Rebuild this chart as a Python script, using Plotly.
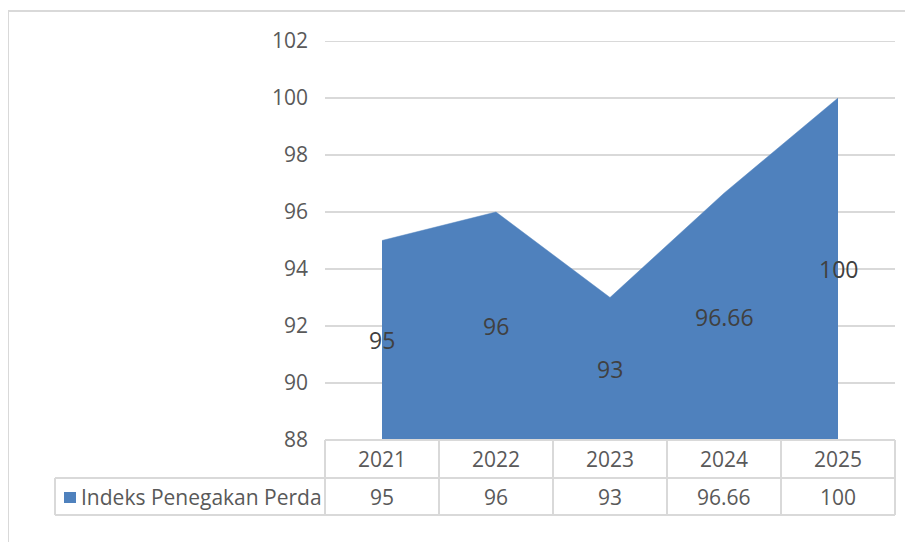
import plotly.graph_objects as go

years = ["2021", "2022", "2023", "2024", "2025"]
values = [95, 96, 93, 96.66, 100]
value_labels = ["95", "96", "93", "96.66", "100"]
series_name = "Indeks Penegakan Perda"
y_min, y_max, y_step = 88, 102, 2

W, H = 913, 542
OFF = 8  # default page body margin
# target plot area in page pixels: x 325..895, y 41..440
ML = 325 - OFF
MR = W - (895 - OFF)
MT = 41 - OFF
MB = H - (440 - OFF)
pw = W - ML - MR
ph = H - MT - MB

def px(x):
    return (x - OFF - ML) / pw

def py(y):
    return (H - MB - (y - OFF)) / ph

FONT = "Open Sans"
GRID = "#D9D9D9"
TXT = "#595959"
BLUE = "#4F81BD"

fig = go.Figure()
fig.add_trace(go.Scatter(
    x=years, y=values, mode="lines", fill="tozeroy",
    fillcolor=BLUE, line=dict(color=BLUE, width=0.5),
    hoverinfo="skip", showlegend=False,
))

shapes = []
line = dict(color=GRID, width=2)
# outer frame
shapes.append(dict(type="line", xref="paper", yref="paper", x0=px(8), x1=px(930), y0=py(11), y1=py(11), line=line))
shapes.append(dict(type="line", xref="paper", yref="paper", x0=px(8), x1=px(8), y0=py(11), y1=py(560), line=line))
# top gridline (plotly omits the gridline sitting on the plot edge)
shapes.append(dict(type="line", xref="paper", yref="y", x0=0, x1=1, y0=y_max, y1=y_max, line=line, layer="below"))
# table
row1_top, row1_bot, row2_bot = 440, 478, 515
table_left = 55
shapes.append(dict(type="line", xref="paper", yref="paper", x0=0, x1=1, y0=py(row1_top), y1=py(row1_top), line=line))
shapes.append(dict(type="line", xref="paper", yref="paper", x0=px(table_left), x1=1, y0=py(row1_bot), y1=py(row1_bot), line=line))
shapes.append(dict(type="line", xref="paper", yref="paper", x0=px(table_left), x1=1, y0=py(row2_bot), y1=py(row2_bot), line=line))
shapes.append(dict(type="line", xref="paper", yref="paper", x0=px(table_left), x1=px(table_left), y0=py(row1_bot), y1=py(row2_bot), line=line))
for i in range(len(years) + 1):
    xv = i / len(years)
    shapes.append(dict(type="line", xref="paper", yref="paper", x0=xv, x1=xv, y0=py(row1_top), y1=py(row2_bot), line=line))
# legend key
shapes.append(dict(type="rect", xref="paper", yref="paper", x0=px(64), x1=px(76), y0=py(492), y1=py(503),
                   fillcolor=BLUE, line=dict(width=0)))

annotations = []
# data labels, centred vertically within the area
for i, (v, lab) in enumerate(zip(values, value_labels)):
    annotations.append(dict(x=i, y=(y_min + v) / 2, xref="x", yref="y", text=lab, showarrow=False,
                            xanchor="center", yanchor="middle",
                            font=dict(family=FONT, size=23, color="#404040")))

tf = dict(family=FONT, size=21, color=TXT)
for i, (yr, lab) in enumerate(zip(years, value_labels)):
    xc = (i + 0.5) / len(years)
    annotations.append(dict(x=xc, y=py((row1_top + row1_bot) / 2), xref="paper", yref="paper",
                            xanchor="center", yanchor="middle", text=yr, showarrow=False, font=tf))
    annotations.append(dict(x=xc, y=py((row1_bot + row2_bot) / 2), xref="paper", yref="paper",
                            xanchor="center", yanchor="middle", text=lab, showarrow=False, font=tf))
annotations.append(dict(x=px(79), y=py((row1_bot + row2_bot) / 2), xref="paper", yref="paper",
                        text=series_name, showarrow=False, xanchor="left", yanchor="middle", font=tf))

fig.update_layout(
    width=W, height=H,
    margin=dict(l=ML, r=MR, t=MT, b=MB),
    paper_bgcolor="white", plot_bgcolor="white",
    xaxis=dict(type="category", range=[-0.5, len(years) - 0.5], showticklabels=False,
               showgrid=False, zeroline=False, showline=False, fixedrange=True),
    yaxis=dict(range=[y_min, y_max], dtick=y_step, tick0=y_min, showgrid=True, gridcolor=GRID, gridwidth=2,
               zeroline=False, showline=False, ticks="", ticklabelstandoff=16,
               tickfont=tf, fixedrange=True),
    shapes=shapes, annotations=annotations,
)

fig.write_html("out.html")
